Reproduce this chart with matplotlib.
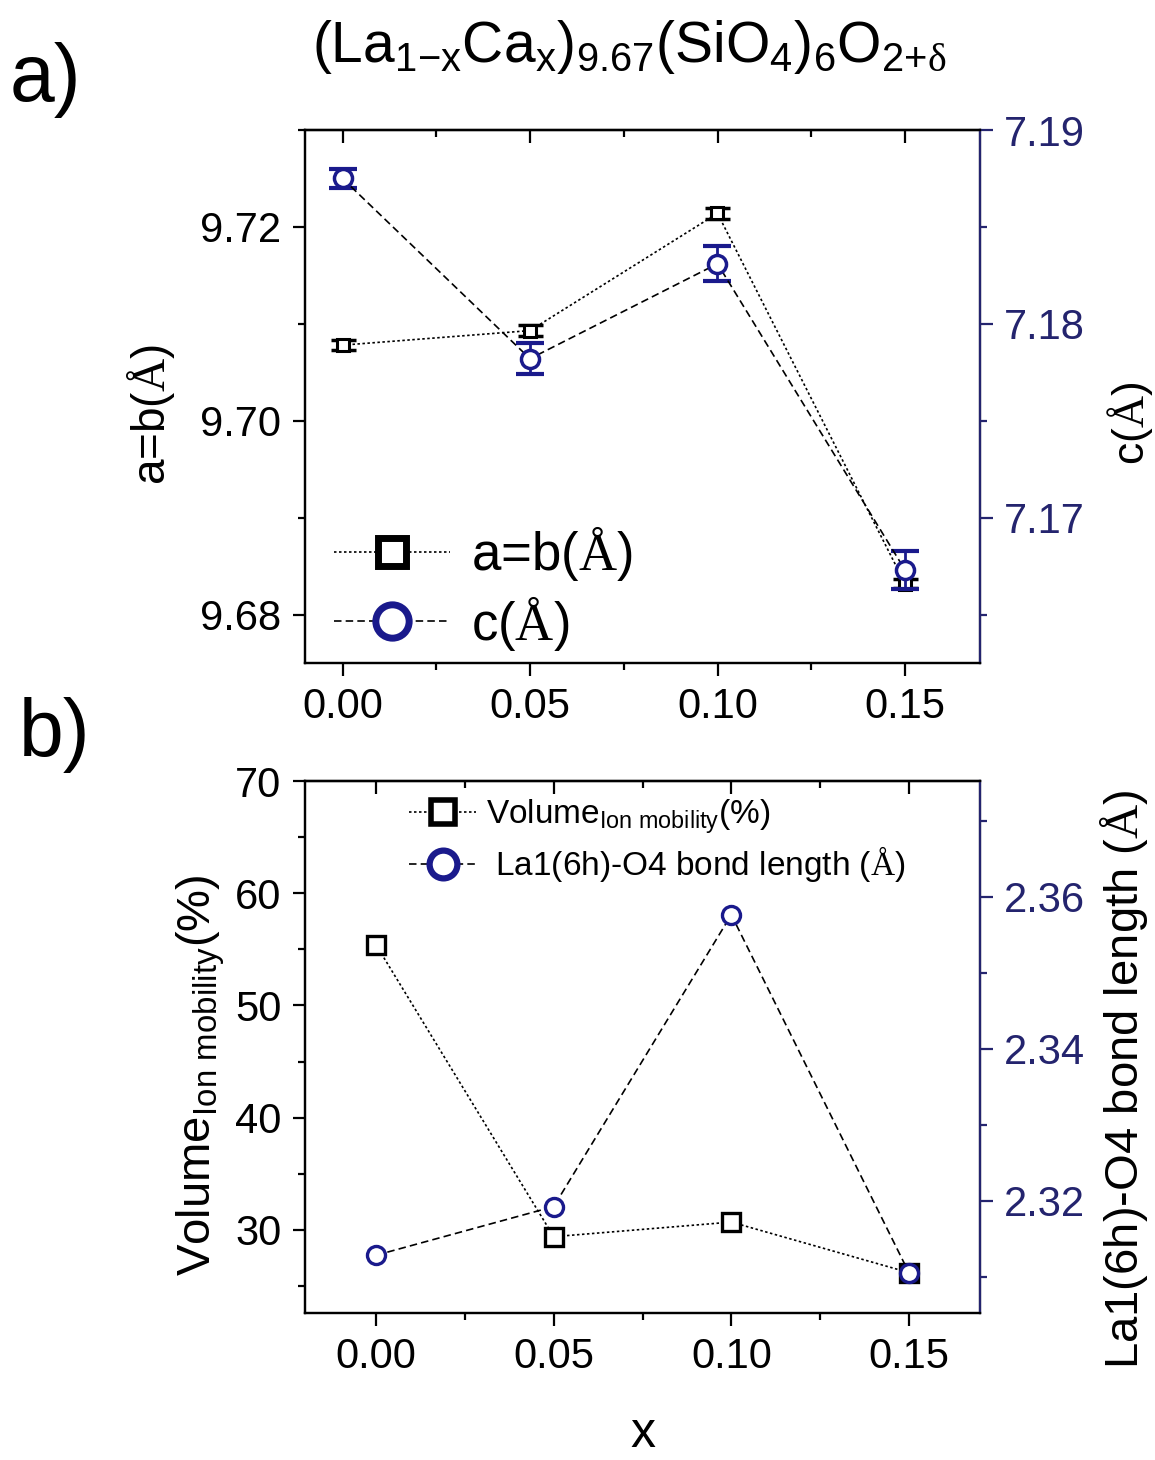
import matplotlib
matplotlib.use('Agg')
import matplotlib.pyplot as plt
from matplotlib.lines import Line2D
from matplotlib.ticker import MultipleLocator

plt.rcParams['font.family'] = ['Liberation Sans', 'DejaVu Sans']
plt.rcParams['mathtext.fontset'] = 'custom'
plt.rcParams['mathtext.rm'] = 'Liberation Serif'
plt.rcParams['mathtext.sf'] = 'Liberation Sans'
plt.rcParams['mathtext.it'] = 'Liberation Sans:italic'
plt.rcParams['mathtext.bf'] = 'Liberation Sans:bold'

# Ca content
x = [0.00, 0.05, 0.10, 0.15]

# panel a: lattice parameters
a_vals = [9.7078, 9.7093, 9.7214, 9.6832]
a_err = [0.0005, 0.0006, 0.0006, 0.0005]
c_vals = [7.1875, 7.1782, 7.1831, 7.1673]
c_err = [0.0005, 0.0008, 0.0009, 0.0010]

# panel b: ion mobility volume and bond length
vol = [55.4, 29.4, 30.7, 26.2]
bond = [2.3128, 2.3192, 2.3576, 2.3105]

NAVY = '#1a1a8c'
AXBLUE = '#24246e'
DOT = (0, (1.5, 1.5))
DASH = (0, (4.5, 2.5))


def style_axes(ax, axr, xlim):
    ax.set_xlim(*xlim)
    ax.xaxis.set_major_locator(MultipleLocator(0.05))
    ax.xaxis.set_minor_locator(MultipleLocator(0.025))
    ax.xaxis.set_major_formatter(plt.FormatStrFormatter('%.2f'))
    for a in (ax, axr):
        a.tick_params(which='major', direction='out', length=9, width=1.6, labelsize=30, pad=8)
        a.tick_params(which='minor', direction='out', length=5, width=1.6)
        for s in a.spines.values():
            s.set_linewidth(1.6)
    axr.spines['right'].set_color(AXBLUE)
    axr.tick_params(axis='y', which='both', colors=AXBLUE, labelcolor=AXBLUE)
    # top ticks point inward
    top = ax.secondary_xaxis('top')
    top.xaxis.set_major_locator(MultipleLocator(0.05))
    top.xaxis.set_minor_locator(MultipleLocator(0.025))
    top.tick_params(which='major', direction='in', length=9, width=1.6, labeltop=False)
    top.tick_params(which='minor', direction='in', length=5, width=1.6)
    top.spines['top'].set_linewidth(1.6)


fig = plt.figure(figsize=(11.55, 14.6), dpi=100)

# ---- panel a ----
ax1 = fig.add_axes([305 / 1155, 1 - 663 / 1460, 675 / 1155, 533 / 1460])
ax2 = ax1.twinx()

ax1.errorbar(x, a_vals, yerr=a_err, fmt='none', ecolor='black', elinewidth=1.8, capsize=9, capthick=2.5)
ax1.plot(x, a_vals, color='black', ls=DOT, lw=1.2, marker='s', ms=9, mfc='white', mec='black', mew=2.2)
ax2.errorbar(x, c_vals, yerr=c_err, fmt='none', ecolor=NAVY, elinewidth=2, capsize=10, capthick=3)
ax2.plot(x, c_vals, color='black', ls=DASH, lw=1.2, marker='o', ms=13, mfc='white', mec=NAVY, mew=2.5)

ax1.set_ylim(9.675, 9.730)
ax1.yaxis.set_major_locator(MultipleLocator(0.02))
ax1.yaxis.set_minor_locator(MultipleLocator(0.01))
ax1.yaxis.set_major_formatter(plt.FormatStrFormatter('%.2f'))
ax2.set_ylim(7.1625, 7.19)
ax2.yaxis.set_major_locator(MultipleLocator(0.01))
ax2.yaxis.set_minor_locator(MultipleLocator(0.005))
ax2.yaxis.set_major_formatter(plt.FormatStrFormatter('%.2f'))
style_axes(ax1, ax2, (-0.01, 0.17))

ax1.set_ylabel('a=b($\\mathrm{Å}$)', fontsize=33)
ax1.yaxis.set_label_coords(-0.19, 0.465)
ax2.set_ylabel('c($\\mathrm{Å}$)', fontsize=32)
ax2.yaxis.set_label_coords(1.185, 0.45)

h1 = Line2D([], [], color='black', ls=DOT, lw=1.2, marker='s', ms=20, mfc='white', mec='black', mew=5)
h2 = Line2D([], [], color='black', ls=DASH, lw=1.2, marker='o', ms=24, mfc='white', mec=NAVY, mew=5)
ax2.legend([h1, h2], ['a=b($\\mathrm{Å}$)', 'c($\\mathrm{Å}$)'], loc='lower left',
           bbox_to_anchor=(-0.012, -0.05), frameon=False, fontsize=38, handlelength=2.2,
           handletextpad=0.4, labelspacing=0.2, borderaxespad=0.3)

# ---- panel b ----
ax3 = fig.add_axes([305 / 1155, 1 - 1313 / 1460, 675 / 1155, 532 / 1460])
ax4 = ax3.twinx()

ax3.plot(x, vol, color='black', ls=DOT, lw=1.2, marker='s', ms=13, mfc='white', mec='black', mew=2.4)
ax4.plot(x, bond, color='black', ls=DASH, lw=1.2, marker='o', ms=13, mfc='white', mec=NAVY, mew=2.4)

ax3.set_ylim(22.6, 70)
ax3.yaxis.set_major_locator(MultipleLocator(10))
ax3.yaxis.set_minor_locator(MultipleLocator(5))
ax4.set_ylim(2.3052, 2.3752)
ax4.yaxis.set_major_locator(MultipleLocator(0.02))
ax4.yaxis.set_minor_locator(MultipleLocator(0.01))
ax4.yaxis.set_major_formatter(plt.FormatStrFormatter('%.2f'))
style_axes(ax3, ax4, (-0.02, 0.17))

ax3.set_ylabel('Volume$_{\\mathsf{Ion\\ mobility}}$(%)', fontsize=34)
ax3.yaxis.set_label_coords(-0.115, 0.447)
ax4.set_ylabel('La1(6h)-O4 bond length ($\\mathrm{Å}$)', fontsize=34, color='black')
ax4.yaxis.set_label_coords(1.175, 0.44)
ax3.set_xlabel('x', fontsize=36)
ax3.xaxis.set_label_coords(0.5, -0.185)

h3 = Line2D([], [], color='black', ls=DOT, lw=1.2, marker='s', ms=17, mfc='white', mec='black', mew=4)
h4 = Line2D([], [], color='black', ls=DASH, lw=1.2, marker='o', ms=20, mfc='white', mec=NAVY, mew=4.5)
ax4.legend([h3, h4], ['Volume$_{\\mathsf{Ion\\ mobility}}$(%)', ' La1(6h)-O4 bond length ($\\mathrm{Å}$)'],
           loc='upper left', bbox_to_anchor=(0.13, 1.0), frameon=False, fontsize=24,
           handlelength=2.0, handletextpad=0.3, labelspacing=0.25, borderaxespad=0.1)

# title and panel letters
fig.text(0.545, 1 - 62 / 1460,
         '$\\mathsf{(La}_{\\mathsf{1{-}x}}\\mathsf{Ca}_{\\mathsf{x}}\\mathsf{)}_{\\mathsf{9.67}}'
         '\\mathsf{(SiO}_{\\mathsf{4}}\\mathsf{)}_{\\mathsf{6}}\\mathsf{O}_{\\mathsf{2{+}}\\mathrm{\\delta}}$',
         fontsize=41, ha='center', va='baseline')
fig.text(0.008, 1 - 80 / 1460, 'a)', fontsize=58, va='center')
fig.text(0.016, 1 - 735 / 1460, 'b)', fontsize=58, va='center')

fig.savefig('out.png', dpi=100)
